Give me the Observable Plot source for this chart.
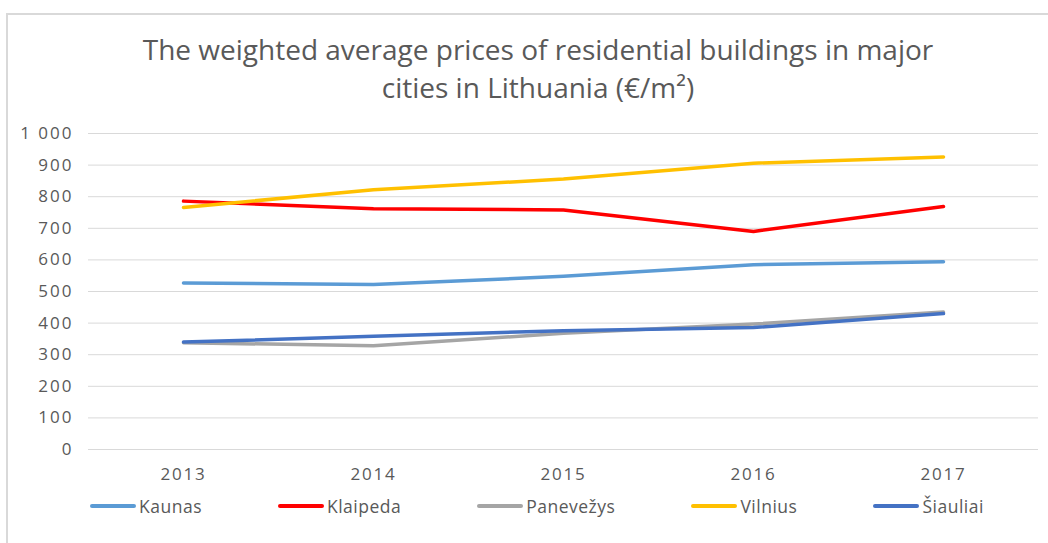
<!DOCTYPE html>
<html><head><meta charset="utf-8">
<script src="https://cdn.jsdelivr.net/npm/d3@7"></script>
<script src="https://cdn.jsdelivr.net/npm/@observablehq/plot@0.6"></script>
<style>
html,body{margin:0;padding:0;background:#fff;}
#wrap{position:relative;width:1048px;height:543px;overflow:hidden;font-family:"Open Sans",sans-serif;color:#595959;}
#frame{position:absolute;left:6px;top:13px;width:1100px;height:600px;border:2px solid #d9d9d9;box-sizing:border-box;}
#title{position:relative;width:1076px;height:118px;box-sizing:border-box;padding-top:30px;text-align:center;font-size:28px;line-height:38px;font-weight:400;color:#595959;}
#chart{position:relative;height:371px;}
#legend{position:absolute;left:90px;top:494px;display:flex;gap:76px;align-items:center;font-size:17.5px;letter-spacing:0.5px;color:#595959;}
.item{display:flex;align-items:center;gap:3px;}
.sw{width:46px;height:4px;border-radius:2px;}
</style>
</head><body>
<div id="wrap">
  <div id="frame"></div>
  <div id="title">The weighted average prices of residential buildings in major<br>cities in Lithuania (€/m²)</div>
  <div id="chart"></div>
  <div id="legend"></div>
</div>
<script>
const years = ["2013","2014","2015","2016","2017"];
const cities = ["Kaunas","Klaipeda","Panevežys","Vilnius","Šiauliai"];
const colors = ["#5B9BD5","#FF0000","#A5A5A5","#FFC000","#4472C4"];
const kaunas    = [527, 522, 548, 585, 594];
const klaipeda  = [786, 762, 758, 690, 769];
const panevezys = [338, 328, 368, 397, 435];
const vilnius   = [766, 822, 856, 906, 926];
const siauliai  = [340, 358, 376, 386, 430];
const yTicks = [0,100,200,300,400,500,600,700,800,900,1000];
const yTickLabels = ["0","100","200","300","400","500","600","700","800","900","1 000"];

const seriesValues = [kaunas, klaipeda, panevezys, vilnius, siauliai];
const data = [];
cities.forEach((c, i) => years.forEach((y, j) => data.push({city: c, year: y, value: seriesValues[i][j]})));

const chart = Plot.plot({
  width: 1048,
  height: 371,
  marginTop: 15,
  marginBottom: 40,
  marginLeft: 88,
  marginRight: 10,
  style: {fontFamily: "Open Sans, sans-serif", color: "#595959", overflow: "visible"},
  x: {type: "point", domain: years, padding: 0.5, label: null},
  y: {domain: [0, 1000], label: null},
  color: {domain: cities, range: colors},
  marks: [
    Plot.gridY(yTicks, {stroke: "#d9d9d9", strokeOpacity: 1, strokeWidth: 1}),
    Plot.axisY(yTicks, {tickSize: 0, tickPadding: 15, tickFormat: (d) => yTickLabels[yTicks.indexOf(d)], fill: "#595959", label: null}),
    Plot.axisX(years, {tickSize: 0, tickPadding: 18, fill: "#595959", label: null}),
    Plot.line(data, {x: "year", y: "value", z: "city", stroke: "city", strokeWidth: 3.5, strokeLinecap: "round", strokeLinejoin: "round"})
  ]
});
document.getElementById("chart").appendChild(chart);
d3.select(chart).selectAll("g[aria-label='y-axis tick label'] text")
  .style("font-size", "17px").style("letter-spacing", "2px");
d3.select(chart).selectAll("g[aria-label='x-axis tick label'] text")
  .style("font-size", "17px").style("letter-spacing", "1.8px");

const legend = document.getElementById("legend");
cities.forEach((c, i) => {
  const it = document.createElement("div");
  it.className = "item";
  const sw = document.createElement("div");
  sw.className = "sw";
  sw.style.background = colors[i];
  const t = document.createElement("span");
  t.textContent = c;
  it.appendChild(sw); it.appendChild(t);
  legend.appendChild(it);
});
</script>
</body></html>
